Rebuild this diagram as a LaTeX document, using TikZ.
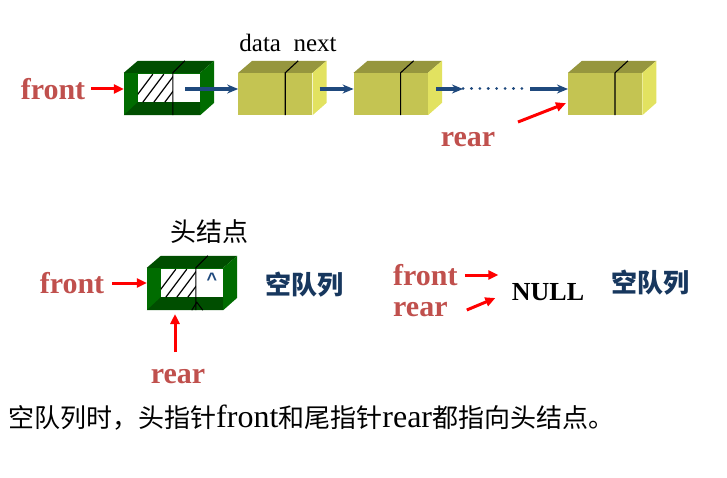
\documentclass[tikz,border=0pt]{standalone}
\usepackage{fontspec}
\setmainfont{Liberation Serif}
\newfontfamily\cjk{Noto Sans CJK SC}
\newfontfamily\arial{Liberation Sans}
\usetikzlibrary{arrows.meta, positioning}

\definecolor{lblred}{RGB}{192,80,77}
\definecolor{linkblue}{RGB}{31,73,125}
\definecolor{qblue}{RGB}{23,55,94}
\definecolor{gfront}{RGB}{0,108,0}
\definecolor{gdark}{RGB}{0,78,0}
\definecolor{yfront}{RGB}{196,196,82}
\definecolor{ytop}{RGB}{150,150,62}
\definecolor{yside}{RGB}{226,226,96}

\newcommand{\zh}[1]{{\cjk\fontsize{26}{26}\selectfont #1}}

\begin{document}
\begin{tikzpicture}[
    x=1pt, y=-1pt,
    cell/.style={rectangle, minimum width=74pt, minimum height=42pt, inner sep=0pt, fill=yfront},
    headcell/.style={cell, minimum width=76pt, fill=gfront},
    link/.style={-{Stealth[length=11pt, width=9pt]}, line width=3.2pt, draw=linkblue},
    ptr/.style={-{Triangle[length=10pt, width=9pt]}, line width=3pt, draw=red},
    lbl/.style={inner sep=2pt, text=lblred, font=\fontsize{30}{30}\selectfont\bfseries},
    qlbl/.style={text=qblue, font=\cjk\fontsize{26}{26}\selectfont\bfseries}
]
\useasboundingbox (0,0) rectangle (727,478);

% Nodes
\node[headcell] (head) at (162,94) {};
\node[cell, right=38pt of head] (a1) {};
\node[cell, right=41pt of a1] (a2) {};
\node[cell, right=140pt of a2] (an) {};
\node[headcell] (hnode) at (185,289) {};

% Box faces
\foreach \nd in {a1,a2,an} {
  \fill[ytop] (\nd.north west) -- ++(14,-12) -- ([shift={(14,-12)}]\nd.north east) -- (\nd.north east) -- cycle;
  \fill[yside] (\nd.north east) -- ++(14,-12) -- ++(0,42) -- (\nd.south east) -- cycle;
  \draw[line width=1.1pt] ([xshift=47pt]\nd.south west) -- ([xshift=47pt]\nd.north west) -- ++(13,-12);
}
\foreach \nd in {head,hnode} {
  \fill[gdark] (\nd.north west) -- ++(14,-12) -- ([shift={(14,-12)}]\nd.north east) -- (\nd.north east) -- cycle;
  \fill[gfront] (\nd.north east) -- ++(14,-12) -- ++(0,42) -- (\nd.south east) -- cycle;
  \fill[white] ([shift={(14,1)}]\nd.north west) rectangle ([yshift=13pt]\nd.south east);
  \fill[gdark] (\nd.south west) -- ([shift={(14,-13)}]\nd.south west) -- ([yshift=13pt]\nd.south east) -- (\nd.south east) -- cycle;
  \begin{scope}
    \clip ([shift={(14,1)}]\nd.north west) rectangle ([shift={(49,-13)}]\nd.south west);
    \foreach \k in {0,...,3}
      \draw[line width=1.2pt] ([shift={(8+\k*11,-13)}]\nd.south west) -- ++(21,-28);
  \end{scope}
  \draw[line width=1.1pt] ([xshift=49pt]\nd.south west) -- ([xshift=49pt]\nd.north west) -- ++(12,-12);
}
\draw[line width=1pt] ([xshift=45pt]hnode.south west) -- ([shift={(50,-8)}]hnode.south west) -- ([xshift=56pt]hnode.south west);
\node[text=linkblue, inner sep=0pt, anchor=north, font=\arial\bfseries\fontsize{18}{18}\selectfont] (nullmark) at (212,273) {\textasciicircum};

% Arrows
\coordinate (gap1) at (463,89);
\coordinate (gap2) at (530,89);
\draw[link] ([shift={(-15,-5)}]head.east) -- ([yshift=5pt]a1.west);
\draw[link] ([shift={(7,-5)}]a1.east) -- ([yshift=5pt]a2.west);
\draw[link] ([shift={(8,-5)}]a2.east) -- (gap1);
\draw[linkblue, line width=3pt, line cap=round, dash pattern=on 0.1pt off 8.3pt] (gap1) -- (gap2);
\draw[link] (gap2) -- ([yshift=5pt]an.west);

% Labels
\node[font=\fontsize{25}{25}\selectfont] (fields) at (288,43) {data\ \ next};
\node[lbl] (front1) at (53,89) {front};
\node[lbl] (rear1) at (468,140) {rear};
\coordinate (rtail1) at (518,122);
\draw[ptr] ([xshift=4pt]front1.east) -- (front1.east -| head.west);
\draw[ptr] (rtail1) -- ([shift={(-2,-12)}]an.south west);

\node[font=\cjk\fontsize{26}{26}\selectfont] (headlbl) at (209,232) {头结点};
\node[lbl] (front2) at (72,283) {front};
\node[lbl] (rear2) at (178,377) {rear};
\coordinate (rtail2) at (175,352);
\draw[ptr] ([xshift=6pt]front2.east) -- (front2.east -| hnode.west);
\draw[ptr] (rtail2) -- ++(0,-38);
\node[qlbl] (empty1) at (304,285) {空队列};

\node[lbl, anchor=west] (front3) at (391,275) {front};
\node[lbl, anchor=west] (rear3) at (391,310) {rear};
\node[font=\fontsize{26}{26}\selectfont\bfseries] (null) at (548,292) {NULL};
\draw[ptr] ([xshift=5pt]front3.east) -- ([shift={(-10,-17)}]null.west);
\draw[ptr] ([xshift=17pt]rear3.east) -- ([shift={(-13,6)}]null.west);
\node[qlbl] (empty2) at (650,283) {空队列};

\node[anchor=west, inner sep=0pt, font=\fontsize{32}{32}\selectfont] (note) at (8,418)
  {\zh{空队列时，头指针}front\zh{和尾指针}rear\zh{都指向头结点。}};

\end{tikzpicture}
\end{document}
